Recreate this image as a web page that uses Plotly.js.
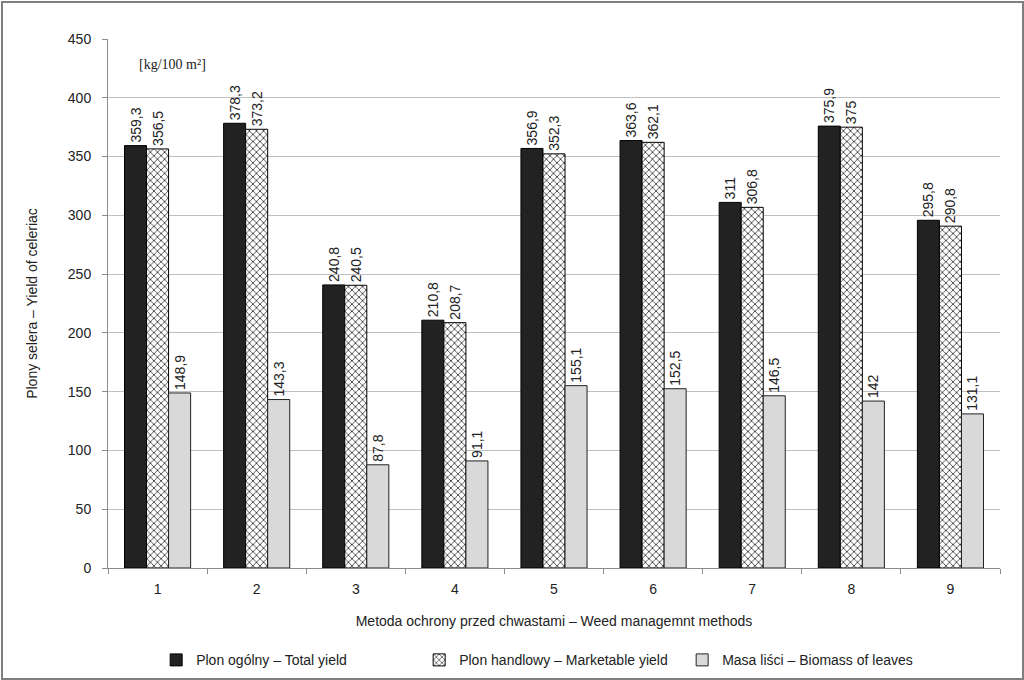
<!DOCTYPE html>
<html>
<head>
<meta charset="utf-8">
<script src="https://cdn.plot.ly/plotly-3.0.1.min.js"></script>
<style>
  body { margin: 0; padding: 0; background: #fff; }
  #wrap { position: relative; width: 1024px; height: 680px; }
  #chart { width: 1024px; height: 680px; }
  #frame { position: absolute; left: 1px; top: 1px; width: 1019px; height: 675px; border: 2px solid #7f7f7f; pointer-events: none; }
</style>
</head>
<body>
<div id="wrap">
  <div id="chart"></div>
  <div id="frame"></div>
</div>
<script>
const categories = ["1", "2", "3", "4", "5", "6", "7", "8", "9"];
const totalYield = [359.3, 378.3, 240.8, 210.8, 356.9, 363.6, 311, 375.9, 295.8];
const marketableYield = [356.5, 373.2, 240.5, 208.7, 352.3, 362.1, 306.8, 375, 290.8];
const leafBiomass = [148.9, 143.3, 87.8, 91.1, 155.1, 152.5, 146.5, 142, 131.1];
const seriesNames = ["Plon ogólny – Total yield", "Plon handlowy – Marketable yield", "Masa liści – Biomass of leaves"];
const yTicks = [0, 50, 100, 150, 200, 250, 300, 350, 400, 450];

const fmt = v => String(v).replace('.', ',');
const FONT = "Liberation Sans, Arial, sans-serif";
const labelFont = { family: FONT, size: 14, color: "#222" };

const common = {
  type: "bar",
  x: categories,
  textposition: "outside",
  textangle: -90,
  constraintext: "none",
  cliponaxis: false,
  outsidetextfont: labelFont,
  hoverinfo: "skip"
};

const traces = [
  Object.assign({}, common, {
    name: seriesNames[0],
    y: totalYield,
    text: totalYield.map(fmt),
    marker: { color: "#222222", line: { color: "#000", width: 1 } }
  }),
  Object.assign({}, common, {
    name: seriesNames[1],
    y: marketableYield,
    text: marketableYield.map(fmt),
    marker: {
      color: "#ffffff",
      line: { color: "#000", width: 1 },
      pattern: { shape: "x", fgcolor: "#333", bgcolor: "#ffffff", size: 5, solidity: 0.3 }
    }
  }),
  Object.assign({}, common, {
    name: seriesNames[2],
    y: leafBiomass,
    text: leafBiomass.map(fmt),
    marker: { color: "#d9d9d9", line: { color: "#222", width: 1 } }
  })
];

const layout = {
  width: 1024,
  height: 680,
  paper_bgcolor: "#fff",
  plot_bgcolor: "#fff",
  font: { family: FONT, size: 14, color: "#222" },
  margin: { l: 108, r: 24, t: 39, b: 112 },
  barmode: "group",
  bargap: 0.333,
  bargroupgap: 0,
  showlegend: true,
  legend: {
    orientation: "h",
    xref: "paper", yref: "container",
    x: 0.054, xanchor: "left",
    y: 0.029, yanchor: "middle",
    font: { family: FONT, size: 14, color: "#222" },
    entrywidth: 218,
    entrywidthmode: "pixels",
    itemwidth: 30,
    traceorder: "normal"
  },
  xaxis: {
    type: "category",
    automargin: false,
    showline: true, linecolor: "#8c8c8c", linewidth: 1,
    ticks: "outside", tickson: "boundaries", ticklen: 5, tickcolor: "#8c8c8c",
    ticklabelstandoff: 8,
    tickfont: { family: FONT, size: 14, color: "#222" },
    title: { text: "Metoda ochrony przed chwastami – Weed managemnt methods", font: { family: FONT, size: 14, color: "#222" }, standoff: 20 },
    showgrid: false,
    zeroline: false
  },
  yaxis: {
    range: [0, 450],
    automargin: false,
    tickvals: yTicks,
    showline: true, linecolor: "#8c8c8c", linewidth: 1,
    ticks: "outside", ticklen: 5, tickcolor: "#8c8c8c",
    ticklabelstandoff: 8,
    tickfont: { family: FONT, size: 14, color: "#222" },
    showgrid: true, gridcolor: "#c0c0c0", gridwidth: 1,
    zeroline: false,
    title: { text: "Plony selera – Yield of celeriac", font: { family: FONT, size: 14, color: "#222" }, standoff: 26 }
  },
  annotations: [{
    xref: "paper", yref: "paper",
    x: 0.0325, y: 0.951, xanchor: "left", yanchor: "middle",
    text: "[kg/100 m²]",
    showarrow: false,
    font: { family: "Liberation Serif, Times New Roman, serif", size: 14, color: "#222" }
  }]
};

Plotly.newPlot("chart", traces, layout, { displayModeBar: false, staticPlot: true });
</script>
</body>
</html>
